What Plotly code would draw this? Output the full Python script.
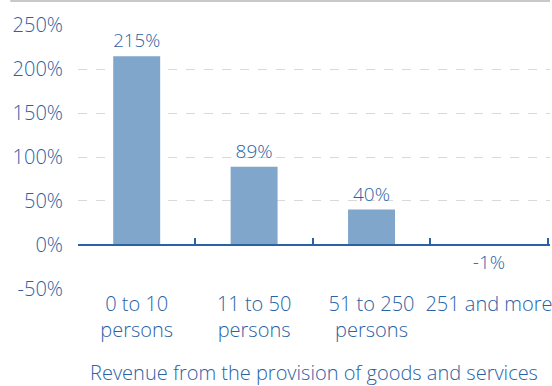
import plotly.graph_objects as go

categories = ["0 to 10<br>persons", "11 to 50<br>persons", "51 to 250<br>persons", "251 and more"]
growth_pct = [215, 89, 40, -1]
y_ticks = [-50, 0, 50, 100, 150, 200, 250]
x_title = "Revenue from the provision of goods and services"

BLUE = "#2a62a6"
BAR = "#80a7cb"
FONT = "Open Sans"
WEIGHT = 300

y_lo, y_hi = -50.5, 250.5
x_lo, x_hi = -0.5, 3.52

fig = go.Figure()
fig.add_trace(go.Bar(
    x=list(range(len(categories))),
    y=growth_pct,
    width=0.4,
    marker=dict(color=BAR, line=dict(width=0)),
    text=[f"{v}%" for v in growth_pct],
    texttemplate="%{text}",
    textposition="outside",
    textfont=dict(color=BLUE, size=19, family=FONT, weight=WEIGHT),
    cliponaxis=False,
    hoverinfo="skip",
))
# helper trace so the zero-level category axis is drawn
fig.add_trace(go.Scatter(
    x=[0], y=[0], xaxis="x2", mode="markers",
    marker=dict(opacity=0), hoverinfo="skip", showlegend=False,
))

zero_pos = (0 - y_lo) / (y_hi - y_lo)

fig.update_layout(
    width=552, height=386,
    margin=dict(l=78, r=0, t=25, b=97),
    paper_bgcolor="white", plot_bgcolor="white",
    showlegend=False,
    font=dict(family=FONT, color=BLUE, size=20, weight=WEIGHT),
    xaxis=dict(
        range=[x_lo, x_hi],
        tickmode="array",
        tickvals=list(range(len(categories))),
        ticktext=categories,
        showgrid=False, zeroline=False, showline=False, ticks="",
        ticklabelstandoff=1,
        ticklabeloverflow="allow",
        tickfont=dict(size=20, color=BLUE, family=FONT, weight=WEIGHT),
        title=dict(text=x_title, font=dict(size=20, color=BLUE, family=FONT, weight=WEIGHT), standoff=24),
    ),
    xaxis2=dict(
        range=[x_lo, x_hi],
        overlaying="x", anchor="free", position=zero_pos, side="bottom",
        tickmode="array", tickvals=[-0.5, 0.5, 1.5, 2.5, 3.5],
        ticks="inside", ticklen=6, tickwidth=1.5, tickcolor=BLUE,
        showline=True, linecolor=BLUE, linewidth=2,
        showticklabels=False, showgrid=False, zeroline=False,
    ),
    yaxis=dict(
        range=[y_lo, y_hi],
        tickmode="array",
        tickvals=y_ticks,
        ticktext=[f"{v}%" for v in y_ticks],
        showgrid=True, gridcolor="#d9d9d9", griddash="dash", gridwidth=1,
        zeroline=False, showline=False, ticks="",
        ticklabelstandoff=14,
        tickfont=dict(size=20, color=BLUE, family=FONT, weight=WEIGHT),
    ),
    shapes=[dict(
        type="line", xref="paper", yref="paper",
        x0=(10 - 78) / 474, x1=1.0,
        y0=1 + 24 / 264, y1=1 + 24 / 264,
        line=dict(color="#c8c8c8", width=2),
    )],
)

fig.write_html("out.html")
